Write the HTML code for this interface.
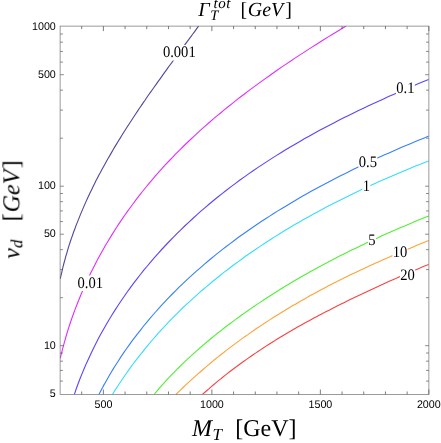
<!DOCTYPE html>
<html><head><meta charset="utf-8"><title>contour</title>
<style>
html,body{margin:0;padding:0;background:#fff;}
body{width:441px;height:443px;overflow:hidden;}
svg{display:block;}
.sans{font-family:"Liberation Sans",sans-serif;}
.serif{font-family:"Liberation Serif",serif;}
.g{filter:grayscale(1);}
text{text-rendering:geometricPrecision;}
</style></head><body>
<svg width="441" height="443" viewBox="0 0 441 443">
<rect x="0" y="0" width="441" height="443" fill="#ffffff"/>
<defs><clipPath id="clip"><rect x="60.1" y="26.1" width="368.79999999999995" height="368.4"/></clipPath></defs>
<g clip-path="url(#clip)" fill="none" stroke-width="1.12" stroke-linejoin="round">
<path d="M60.2,279.0 L60.9,275.8 L61.7,272.6 L62.4,269.4 L63.2,266.2 L64.0,263.0 L64.9,259.8 L65.7,256.6 L66.7,253.5 L67.6,250.3 L68.5,247.2 L69.5,244.1 L70.5,241.0 L71.6,237.9 L72.7,234.8 L73.7,231.8 L74.9,228.7 L76.0,225.6 L77.2,222.6 L78.4,219.6 L79.6,216.6 L80.8,213.6 L82.1,210.6 L83.4,207.6 L84.7,204.6 L86.0,201.6 L87.3,198.7 L88.7,195.7 L90.1,192.8 L91.5,189.9 L92.9,186.9 L94.4,184.0 L95.8,181.1 L97.3,178.2 L98.8,175.3 L100.4,172.5 L101.9,169.6 L103.5,166.7 L105.0,163.9 L106.6,161.0 L108.2,158.2 L109.9,155.4 L111.5,152.6 L113.1,149.7 L114.8,146.9 L116.5,144.1 L118.2,141.3 L119.9,138.6 L121.6,135.8 L123.3,133.0 L125.1,130.2 L126.8,127.5 L128.6,124.7 L130.4,122.0 L132.2,119.2 L134.0,116.5 L135.8,113.8 L137.6,111.1 L139.4,108.3 L141.3,105.6 L143.1,102.9 L145.0,100.2 L146.8,97.5 L148.7,94.8 L150.6,92.1 L152.5,89.5 L154.4,86.8 L156.3,84.1 L158.2,81.4 L160.1,78.8 L162.0,76.1 L163.9,73.4 L165.8,70.8 L167.7,68.1 L169.6,65.5 L171.6,62.9 L173.5,60.2 L175.4,57.6 L177.4,54.9 L179.3,52.3 L181.2,49.7 L183.2,47.1 L185.1,44.4 L187.0,41.8 L189.0,39.2 L190.9,36.6 L192.8,34.0 L194.8,31.3 L196.7,28.7 L198.6,26.1" stroke="#54479c"/>
<path d="M60.3,358.2 L61.5,353.2 L62.8,348.2 L64.1,343.3 L65.5,338.4 L66.9,333.5 L68.4,328.6 L70.0,323.8 L71.6,319.0 L73.3,314.2 L75.1,309.4 L76.9,304.7 L78.8,300.0 L80.7,295.3 L82.7,290.6 L84.7,286.0 L86.8,281.4 L88.9,276.8 L91.1,272.2 L93.4,267.7 L95.7,263.2 L98.0,258.8 L100.5,254.3 L102.9,249.9 L105.4,245.5 L108.0,241.2 L110.6,236.9 L113.3,232.6 L116.0,228.3 L118.7,224.1 L121.6,219.9 L124.4,215.7 L127.3,211.6 L130.3,207.5 L133.3,203.5 L136.3,199.4 L139.4,195.4 L142.5,191.5 L145.7,187.5 L148.9,183.6 L152.1,179.8 L155.4,175.9 L158.8,172.1 L162.1,168.4 L165.5,164.7 L169.0,161.0 L172.5,157.3 L176.0,153.7 L179.6,150.1 L183.2,146.5 L186.8,143.0 L190.5,139.5 L194.2,136.1 L197.9,132.6 L201.7,129.2 L205.4,125.9 L209.3,122.5 L213.1,119.2 L217.0,115.9 L220.9,112.7 L224.8,109.4 L228.8,106.2 L232.7,103.1 L236.7,99.9 L240.7,96.8 L244.8,93.7 L248.8,90.6 L252.9,87.6 L257.0,84.6 L261.1,81.6 L265.3,78.6 L269.4,75.7 L273.6,72.7 L277.8,69.8 L281.9,66.9 L286.1,64.1 L290.4,61.3 L294.6,58.4 L298.8,55.6 L303.1,52.9 L307.3,50.1 L311.6,47.4 L315.8,44.7 L320.1,42.0 L324.4,39.3 L328.7,36.6 L333.0,34.0 L337.2,31.4 L341.5,28.7 L345.8,26.2" stroke="#e030ff"/>
<path d="M74.3,394.6 L76.1,389.3 L78.0,384.0 L80.0,378.8 L82.1,373.6 L84.2,368.5 L86.4,363.4 L88.7,358.4 L91.0,353.4 L93.4,348.4 L95.9,343.5 L98.4,338.6 L101.0,333.8 L103.7,329.0 L106.4,324.2 L109.2,319.5 L112.1,314.8 L115.0,310.1 L118.0,305.5 L121.0,301.0 L124.1,296.5 L127.2,292.0 L130.4,287.6 L133.7,283.2 L137.0,278.8 L140.4,274.5 L143.8,270.2 L147.3,266.0 L150.8,261.8 L154.4,257.7 L158.0,253.6 L161.7,249.5 L165.4,245.5 L169.2,241.5 L173.0,237.6 L176.9,233.7 L180.8,229.8 L184.7,226.0 L188.7,222.3 L192.8,218.5 L196.8,214.8 L200.9,211.2 L205.1,207.6 L209.3,204.0 L213.5,200.5 L217.8,197.0 L222.1,193.6 L226.4,190.2 L230.8,186.9 L235.2,183.6 L239.6,180.3 L244.1,177.1 L248.6,173.9 L253.1,170.8 L257.7,167.6 L262.3,164.6 L266.9,161.6 L271.5,158.6 L276.2,155.6 L280.9,152.7 L285.6,149.8 L290.3,147.0 L295.1,144.2 L299.9,141.4 L304.7,138.6 L309.5,135.9 L314.3,133.2 L319.2,130.6 L324.1,128.0 L328.9,125.4 L333.8,122.9 L338.8,120.3 L343.7,117.8 L348.6,115.4 L353.6,112.9 L358.5,110.5 L363.5,108.2 L368.5,105.8 L373.5,103.5 L378.5,101.2 L383.5,98.9 L388.5,96.6 L393.5,94.4 L398.5,92.2 L403.5,90.0 L408.6,87.8 L413.6,85.7 L418.6,83.6 L423.6,81.5 L428.6,79.4" stroke="#5a46ff"/>
<path d="M98.9,394.5 L101.1,390.2 L103.4,385.9 L105.8,381.7 L108.2,377.4 L110.6,373.3 L113.1,369.1 L115.7,365.0 L118.3,361.0 L120.9,356.9 L123.6,352.9 L126.3,349.0 L129.1,345.1 L131.9,341.2 L134.8,337.4 L137.7,333.6 L140.7,329.8 L143.6,326.0 L146.7,322.3 L149.8,318.7 L152.9,315.0 L156.0,311.5 L159.2,307.9 L162.4,304.4 L165.7,300.9 L169.0,297.4 L172.3,294.0 L175.7,290.6 L179.1,287.2 L182.6,283.9 L186.0,280.6 L189.5,277.4 L193.1,274.1 L196.7,270.9 L200.3,267.8 L203.9,264.6 L207.6,261.5 L211.2,258.5 L215.0,255.4 L218.7,252.4 L222.5,249.4 L226.3,246.5 L230.1,243.6 L234.0,240.7 L237.8,237.8 L241.7,235.0 L245.7,232.2 L249.6,229.5 L253.6,226.7 L257.6,224.0 L261.6,221.3 L265.6,218.7 L269.7,216.1 L273.7,213.5 L277.8,210.9 L281.9,208.4 L286.1,205.9 L290.2,203.4 L294.4,200.9 L298.5,198.5 L302.7,196.1 L306.9,193.7 L311.1,191.3 L315.4,189.0 L319.6,186.7 L323.9,184.4 L328.2,182.2 L332.4,179.9 L336.7,177.7 L341.0,175.5 L345.4,173.4 L349.7,171.2 L354.0,169.1 L358.4,167.0 L362.7,164.9 L367.1,162.9 L371.5,160.8 L375.8,158.8 L380.2,156.8 L384.6,154.8 L389.0,152.9 L393.4,150.9 L397.8,149.0 L402.2,147.1 L406.6,145.2 L411.0,143.4 L415.4,141.5 L419.8,139.7 L424.3,137.9 L428.7,136.1" stroke="#3880ff"/>
<path d="M112.4,394.5 L114.8,390.6 L117.3,386.8 L119.8,383.0 L122.3,379.2 L124.9,375.5 L127.4,371.8 L130.1,368.1 L132.7,364.5 L135.5,360.9 L138.2,357.3 L141.0,353.8 L143.8,350.3 L146.6,346.8 L149.5,343.4 L152.4,340.0 L155.4,336.6 L158.3,333.2 L161.3,329.9 L164.4,326.6 L167.4,323.4 L170.5,320.1 L173.7,316.9 L176.8,313.8 L180.0,310.6 L183.2,307.5 L186.5,304.4 L189.8,301.4 L193.1,298.4 L196.4,295.4 L199.7,292.4 L203.1,289.5 L206.5,286.6 L210.0,283.7 L213.4,280.8 L216.9,278.0 L220.4,275.2 L223.9,272.4 L227.5,269.7 L231.0,267.0 L234.6,264.3 L238.3,261.6 L241.9,259.0 L245.5,256.3 L249.2,253.8 L252.9,251.2 L256.6,248.7 L260.4,246.1 L264.1,243.7 L267.9,241.2 L271.7,238.8 L275.5,236.4 L279.3,234.0 L283.2,231.6 L287.0,229.3 L290.9,226.9 L294.8,224.6 L298.7,222.4 L302.6,220.1 L306.5,217.9 L310.5,215.7 L314.4,213.5 L318.4,211.4 L322.4,209.2 L326.4,207.1 L330.4,205.0 L334.4,203.0 L338.4,200.9 L342.5,198.9 L346.5,196.9 L350.6,194.9 L354.6,192.9 L358.7,191.0 L362.8,189.1 L366.8,187.2 L370.9,185.3 L375.0,183.4 L379.1,181.6 L383.2,179.8 L387.4,178.0 L391.5,176.2 L395.6,174.4 L399.7,172.7 L403.8,170.9 L408.0,169.2 L412.1,167.5 L416.2,165.8 L420.4,164.2 L424.5,162.5 L428.7,160.9" stroke="#38dcff"/>
<path d="M154.1,394.5 L156.5,391.6 L158.9,388.7 L161.4,385.9 L163.9,383.1 L166.4,380.4 L169.0,377.6 L171.5,374.9 L174.1,372.3 L176.7,369.6 L179.3,367.0 L182.0,364.4 L184.6,361.8 L187.3,359.3 L190.0,356.8 L192.7,354.3 L195.5,351.8 L198.3,349.4 L201.0,347.0 L203.8,344.6 L206.6,342.2 L209.5,339.8 L212.3,337.5 L215.2,335.1 L218.1,332.8 L221.0,330.6 L223.9,328.3 L226.8,326.0 L229.8,323.8 L232.8,321.6 L235.7,319.4 L238.7,317.2 L241.7,315.0 L244.8,312.9 L247.8,310.8 L250.8,308.6 L253.9,306.5 L257.0,304.4 L260.1,302.4 L263.2,300.3 L266.3,298.3 L269.4,296.2 L272.6,294.2 L275.7,292.2 L278.9,290.3 L282.0,288.3 L285.2,286.3 L288.4,284.4 L291.6,282.5 L294.8,280.6 L298.0,278.7 L301.3,276.8 L304.5,275.0 L307.7,273.2 L311.0,271.3 L314.3,269.5 L317.5,267.7 L320.8,266.0 L324.1,264.2 L327.4,262.5 L330.7,260.7 L334.0,259.0 L337.3,257.3 L340.6,255.6 L344.0,253.9 L347.3,252.3 L350.6,250.6 L354.0,249.0 L357.3,247.4 L360.7,245.8 L364.0,244.2 L367.4,242.6 L370.8,241.0 L374.2,239.4 L377.5,237.9 L380.9,236.3 L384.3,234.8 L387.7,233.3 L391.1,231.8 L394.5,230.3 L397.9,228.8 L401.3,227.3 L404.7,225.9 L408.1,224.4 L411.6,223.0 L415.0,221.5 L418.4,220.1 L421.8,218.7 L425.3,217.3 L428.7,215.9" stroke="#50f034"/>
<path d="M175.9,394.5 L178.3,392.1 L180.7,389.8 L183.1,387.5 L185.5,385.2 L188.0,382.9 L190.5,380.6 L192.9,378.3 L195.4,376.1 L197.9,373.9 L200.5,371.7 L203.0,369.5 L205.5,367.3 L208.1,365.1 L210.7,363.0 L213.2,360.8 L215.8,358.7 L218.4,356.6 L221.1,354.5 L223.7,352.5 L226.3,350.4 L229.0,348.4 L231.6,346.4 L234.3,344.4 L237.0,342.4 L239.7,340.4 L242.4,338.4 L245.1,336.5 L247.9,334.6 L250.6,332.6 L253.4,330.7 L256.1,328.8 L258.9,327.0 L261.7,325.1 L264.5,323.3 L267.3,321.4 L270.1,319.6 L272.9,317.8 L275.7,316.0 L278.6,314.3 L281.4,312.5 L284.3,310.8 L287.1,309.0 L290.0,307.3 L292.9,305.6 L295.8,303.9 L298.7,302.2 L301.6,300.6 L304.5,298.9 L307.4,297.3 L310.3,295.6 L313.3,294.0 L316.2,292.4 L319.2,290.8 L322.1,289.3 L325.1,287.7 L328.0,286.1 L331.0,284.6 L334.0,283.1 L337.0,281.6 L340.0,280.0 L343.0,278.6 L346.0,277.1 L349.0,275.6 L352.0,274.1 L355.0,272.7 L358.1,271.2 L361.1,269.8 L364.1,268.4 L367.2,267.0 L370.2,265.6 L373.2,264.2 L376.3,262.8 L379.4,261.4 L382.4,260.1 L385.5,258.7 L388.5,257.4 L391.6,256.0 L394.7,254.7 L397.8,253.4 L400.9,252.1 L403.9,250.7 L407.0,249.5 L410.1,248.2 L413.2,246.9 L416.3,245.6 L419.4,244.3 L422.5,243.1 L425.6,241.8 L428.7,240.6" stroke="#ffa238"/>
<path d="M202.4,394.4 L204.6,392.5 L206.9,390.5 L209.1,388.6 L211.3,386.6 L213.6,384.7 L215.8,382.8 L218.1,380.9 L220.4,379.1 L222.7,377.2 L225.0,375.4 L227.3,373.6 L229.6,371.8 L232.0,370.0 L234.3,368.2 L236.7,366.5 L239.0,364.7 L241.4,363.0 L243.8,361.3 L246.2,359.6 L248.6,357.9 L251.0,356.2 L253.4,354.5 L255.9,352.9 L258.3,351.2 L260.8,349.6 L263.2,348.0 L265.7,346.4 L268.2,344.8 L270.6,343.3 L273.1,341.7 L275.6,340.1 L278.1,338.6 L280.6,337.1 L283.2,335.5 L285.7,334.0 L288.2,332.5 L290.8,331.1 L293.3,329.6 L295.9,328.1 L298.4,326.6 L301.0,325.2 L303.5,323.8 L306.1,322.3 L308.7,320.9 L311.3,319.5 L313.9,318.1 L316.5,316.7 L319.1,315.3 L321.7,313.9 L324.3,312.6 L326.9,311.2 L329.6,309.9 L332.2,308.5 L334.8,307.2 L337.5,305.8 L340.1,304.5 L342.8,303.2 L345.4,301.9 L348.1,300.6 L350.7,299.3 L353.4,298.0 L356.0,296.7 L358.7,295.4 L361.4,294.2 L364.1,292.9 L366.7,291.7 L369.4,290.4 L372.1,289.2 L374.8,287.9 L377.5,286.7 L380.1,285.5 L382.8,284.3 L385.5,283.0 L388.2,281.8 L390.9,280.6 L393.6,279.4 L396.3,278.3 L399.0,277.1 L401.7,275.9 L404.4,274.7 L407.1,273.5 L409.8,272.4 L412.5,271.2 L415.2,270.1 L417.9,268.9 L420.6,267.8 L423.3,266.6 L426.0,265.5 L428.7,264.4" stroke="#fa4242"/>
</g>
<g class="serif g" font-size="16" fill="#000" text-anchor="middle">
<rect x="162.6" y="45.0" width="33.4" height="15.5" fill="#fff"/>
<text transform="translate(179.3,57.3) scale(0.91,1)" x="0" y="0">0.001</text>
<rect x="77.2" y="275.5" width="26.1" height="15.5" fill="#fff"/>
<text transform="translate(90.2,287.8) scale(0.91,1)" x="0" y="0">0.01</text>
<rect x="396.0" y="80.6" width="18.8" height="15.5" fill="#fff"/>
<text transform="translate(405.4,92.9) scale(0.91,1)" x="0" y="0">0.1</text>
<rect x="358.5" y="154.6" width="18.8" height="15.5" fill="#fff"/>
<text transform="translate(367.9,166.9) scale(0.91,1)" x="0" y="0">0.5</text>
<rect x="362.4" y="178.6" width="7.9" height="15.5" fill="#fff"/>
<text transform="translate(366.3,190.9) scale(0.91,1)" x="0" y="0">1</text>
<rect x="368.1" y="232.4" width="7.9" height="15.5" fill="#fff"/>
<text transform="translate(372.0,244.7) scale(0.91,1)" x="0" y="0">5</text>
<rect x="392.4" y="244.3" width="15.2" height="15.5" fill="#fff"/>
<text transform="translate(400.0,256.6) scale(0.91,1)" x="0" y="0">10</text>
<rect x="400.0" y="267.6" width="15.2" height="15.5" fill="#fff"/>
<text transform="translate(407.6,279.9) scale(0.91,1)" x="0" y="0">20</text>
</g>
<path d="M81.70,394.5 v-3.0 M81.70,26.1 v3.0 M103.39,394.5 v-5.0 M103.39,26.1 v5.0 M125.09,394.5 v-3.0 M125.09,26.1 v3.0 M146.78,394.5 v-3.0 M146.78,26.1 v3.0 M168.48,394.5 v-3.0 M168.48,26.1 v3.0 M190.18,394.5 v-3.0 M190.18,26.1 v3.0 M211.87,394.5 v-5.0 M211.87,26.1 v5.0 M233.57,394.5 v-3.0 M233.57,26.1 v3.0 M255.26,394.5 v-3.0 M255.26,26.1 v3.0 M276.96,394.5 v-3.0 M276.96,26.1 v3.0 M298.66,394.5 v-3.0 M298.66,26.1 v3.0 M320.35,394.5 v-5.0 M320.35,26.1 v5.0 M342.05,394.5 v-3.0 M342.05,26.1 v3.0 M363.74,394.5 v-3.0 M363.74,26.1 v3.0 M385.44,394.5 v-3.0 M385.44,26.1 v3.0 M407.14,394.5 v-3.0 M407.14,26.1 v3.0 M428.83,394.5 v-5.0 M428.83,26.1 v5.0" stroke="#444" stroke-width="0.7" fill="none"/>
<path d="M60.1,381.08 h2.9 M428.9,381.08 h-2.9 M60.1,370.41 h2.9 M428.9,370.41 h-2.9 M60.1,361.16 h2.9 M428.9,361.16 h-2.9 M60.1,353.00 h2.9 M428.9,353.00 h-2.9 M60.1,345.70 h3.8 M428.9,345.70 h-3.8 M60.1,297.69 h2.9 M428.9,297.69 h-2.9 M60.1,269.60 h2.9 M428.9,269.60 h-2.9 M60.1,249.67 h2.9 M428.9,249.67 h-2.9 M60.1,234.21 h3.8 M428.9,234.21 h-3.8 M60.1,221.58 h2.9 M428.9,221.58 h-2.9 M60.1,210.91 h2.9 M428.9,210.91 h-2.9 M60.1,201.66 h2.9 M428.9,201.66 h-2.9 M60.1,193.50 h2.9 M428.9,193.50 h-2.9 M60.1,186.20 h3.8 M428.9,186.20 h-3.8 M60.1,138.19 h2.9 M428.9,138.19 h-2.9 M60.1,110.10 h2.9 M428.9,110.10 h-2.9 M60.1,90.17 h2.9 M428.9,90.17 h-2.9 M60.1,74.71 h3.8 M428.9,74.71 h-3.8 M60.1,62.08 h2.9 M428.9,62.08 h-2.9 M60.1,51.41 h2.9 M428.9,51.41 h-2.9 M60.1,42.16 h2.9 M428.9,42.16 h-2.9 M60.1,34.00 h2.9 M428.9,34.00 h-2.9" stroke="#555" stroke-width="0.68" fill="none"/>
<rect x="60.1" y="26.1" width="368.79999999999995" height="368.4" fill="none" stroke="#666" stroke-width="0.65"/>
<g class="sans g" font-size="11.1" fill="#000">
<text transform="translate(103.4,408.4) scale(0.965,1)" text-anchor="middle">500</text>
<text transform="translate(211.9,408.4) scale(0.965,1)" text-anchor="middle">1000</text>
<text transform="translate(320.4,408.4) scale(0.965,1)" text-anchor="middle">1500</text>
<text transform="translate(428.8,408.4) scale(0.965,1)" text-anchor="middle">2000</text>
<text transform="translate(55.8,396.9) scale(0.965,1)" text-anchor="end">5</text>
<text transform="translate(55.8,348.9) scale(0.965,1)" text-anchor="end">10</text>
<text transform="translate(55.8,237.4) scale(0.965,1)" text-anchor="end">50</text>
<text transform="translate(55.8,189.4) scale(0.965,1)" text-anchor="end">100</text>
<text transform="translate(55.8,77.9) scale(0.965,1)" text-anchor="end">500</text>
<text transform="translate(55.8,29.9) scale(0.965,1)" text-anchor="end">1000</text>
</g>
<g class="serif g" fill="#000">
<text x="198.3" y="15.6" font-size="20" font-style="italic">Γ<tspan font-size="15" letter-spacing="0.5" x="213.6" y="8.1">tot</tspan><tspan font-size="14.5" x="210.2" y="20">T</tspan><tspan font-size="20" font-style="normal" x="240.6" y="15.6">[</tspan><tspan font-size="20" x="247.7" y="15.6">GeV</tspan><tspan font-size="20" font-style="normal" x="285.3" y="15.6">]</tspan></text>
<text x="192" y="435.9" font-size="24"><tspan font-style="italic">M</tspan><tspan font-style="italic" font-size="17" dx="0.5" dy="3.6">T</tspan><tspan dy="-3.6" x="235.3" >[GeV]</tspan></text>
<text transform="translate(19.3,258.8) rotate(-90)" font-size="24" font-style="italic"><tspan>v</tspan><tspan font-size="17" dy="3">d</tspan><tspan dy="-3" x="37.6" font-style="normal">[</tspan><tspan x="46.4">GeV</tspan><tspan x="90.6" font-style="normal">]</tspan></text>
</g>
</svg></body></html>
